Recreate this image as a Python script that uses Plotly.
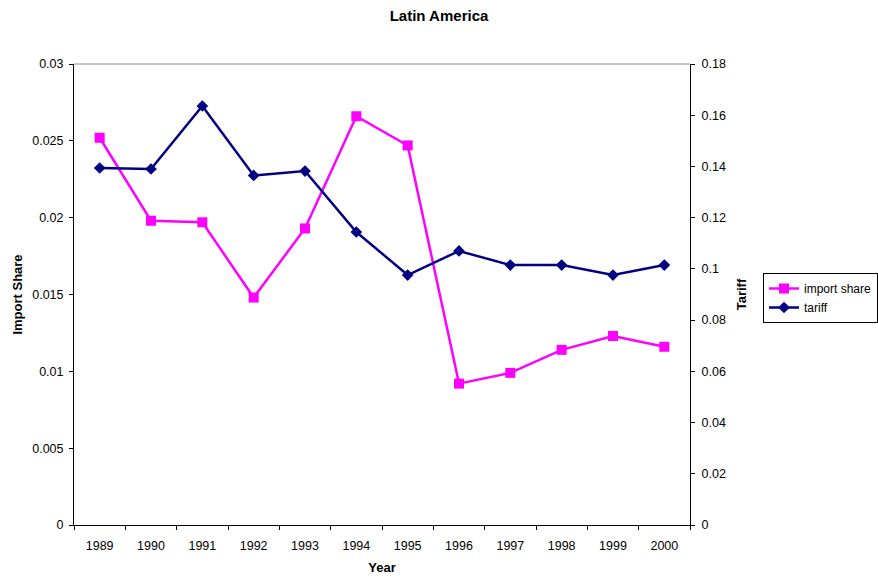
import plotly.graph_objects as go

years = ["1989", "1990", "1991", "1992", "1993", "1994",
         "1995", "1996", "1997", "1998", "1999", "2000"]
import_share = [0.0252, 0.0198, 0.0197, 0.0148, 0.0193, 0.0266,
                0.0247, 0.0092, 0.0099, 0.0114, 0.0123, 0.0116]
tariff = [0.1394, 0.1390, 0.1636, 0.1365, 0.1382, 0.1144,
          0.0976, 0.1070, 0.1015, 0.1015, 0.0976, 0.1015]

FONT = "Liberation Sans, Arial, sans-serif"
PINK = "#FF00FF"
NAVY = "#000080"

fig = go.Figure()
fig.add_trace(go.Scatter(
    x=years, y=import_share, name="import share", mode="lines+markers",
    line=dict(color=PINK, width=2.5),
    marker=dict(symbol="square", size=10, color=PINK),
    yaxis="y", xaxis="x",
))
fig.add_trace(go.Scatter(
    x=years, y=tariff, name="tariff", mode="lines+markers",
    line=dict(color=NAVY, width=2.5),
    marker=dict(symbol="diamond", size=9, color=NAVY),
    yaxis="y2", xaxis="x",
))

n = len(years)
bounds = [i - 0.5 for i in range(n + 1)]
axis_font = dict(family=FONT, size=12.5, color="black")
title_font = dict(family=FONT, size=13, color="black", weight="bold")

fig.update_layout(
    width=878, height=578,
    margin=dict(l=74, r=188, t=64, b=53, autoexpand=False),
    paper_bgcolor="white", plot_bgcolor="white",
    font=dict(family=FONT, size=12, color="black"),
    title=dict(text="<b>Latin America</b>", x=0.5, xanchor="center",
               y=1 - 16 / 578, yanchor="middle",
               font=dict(family=FONT, size=15, color="black")),
    showlegend=True,
    legend=dict(x=(763 - 74) / 616, y=(525 - 273) / 461,
                xanchor="left", yanchor="top",
                bgcolor="white", bordercolor="black", borderwidth=1,
                font=dict(family=FONT, size=12, color="black"),
                itemwidth=30, tracegroupgap=0),
    xaxis=dict(type="category", categoryarray=years, range=[-0.5, n - 0.5],
               showgrid=False, showline=True, linecolor="black", linewidth=1,
               mirror=False, ticks="outside", ticklen=4, tickcolor="black",
               tickson="boundaries", tickfont=axis_font, ticklabelstandoff=9,
               title=dict(text="Year", font=title_font, standoff=10),
               zeroline=False),
    yaxis=dict(range=[0, 0.03], dtick=0.005, showgrid=False, showline=True,
               linecolor="black", linewidth=1, ticks="outside", ticklen=4,
               tickcolor="black", tickfont=axis_font, tickformat="~g",
               ticklabelstandoff=3,
               title=dict(text="Import Share", font=title_font, standoff=6),
               zeroline=False),
    yaxis2=dict(range=[0, 0.18], dtick=0.02, overlaying="y", side="right",
                showgrid=False, showline=True, linecolor="black", linewidth=1,
                ticks="outside", ticklen=4, tickcolor="black",
                tickfont=axis_font, tickformat="~g", ticklabelstandoff=4,
                title=dict(text="Tariff", font=title_font, standoff=12),
                zeroline=False),
    # inner halves of the crossing tick marks
    xaxis3=dict(overlaying="x", anchor="y", range=[-0.5, n - 0.5],
                tickvals=bounds, ticks="inside", ticklen=4, tickcolor="black",
                showticklabels=False, showgrid=False, showline=False,
                zeroline=False),
    yaxis3=dict(overlaying="y", anchor="x", side="left", range=[0, 0.03],
                dtick=0.005, ticks="inside", ticklen=4, tickcolor="black",
                showticklabels=False, showgrid=False, showline=False,
                zeroline=False),
    yaxis4=dict(overlaying="y", anchor="x", side="right", range=[0, 0.18],
                dtick=0.02, ticks="inside", ticklen=4, tickcolor="black",
                showticklabels=False, showgrid=False, showline=False,
                zeroline=False),
)

# gray frame line along the top of the plotting area
fig.add_shape(type="line", xref="paper", yref="paper", x0=0, x1=1, y0=1, y1=1,
              line=dict(color="#888888", width=1))

fig.write_html("out.html")
